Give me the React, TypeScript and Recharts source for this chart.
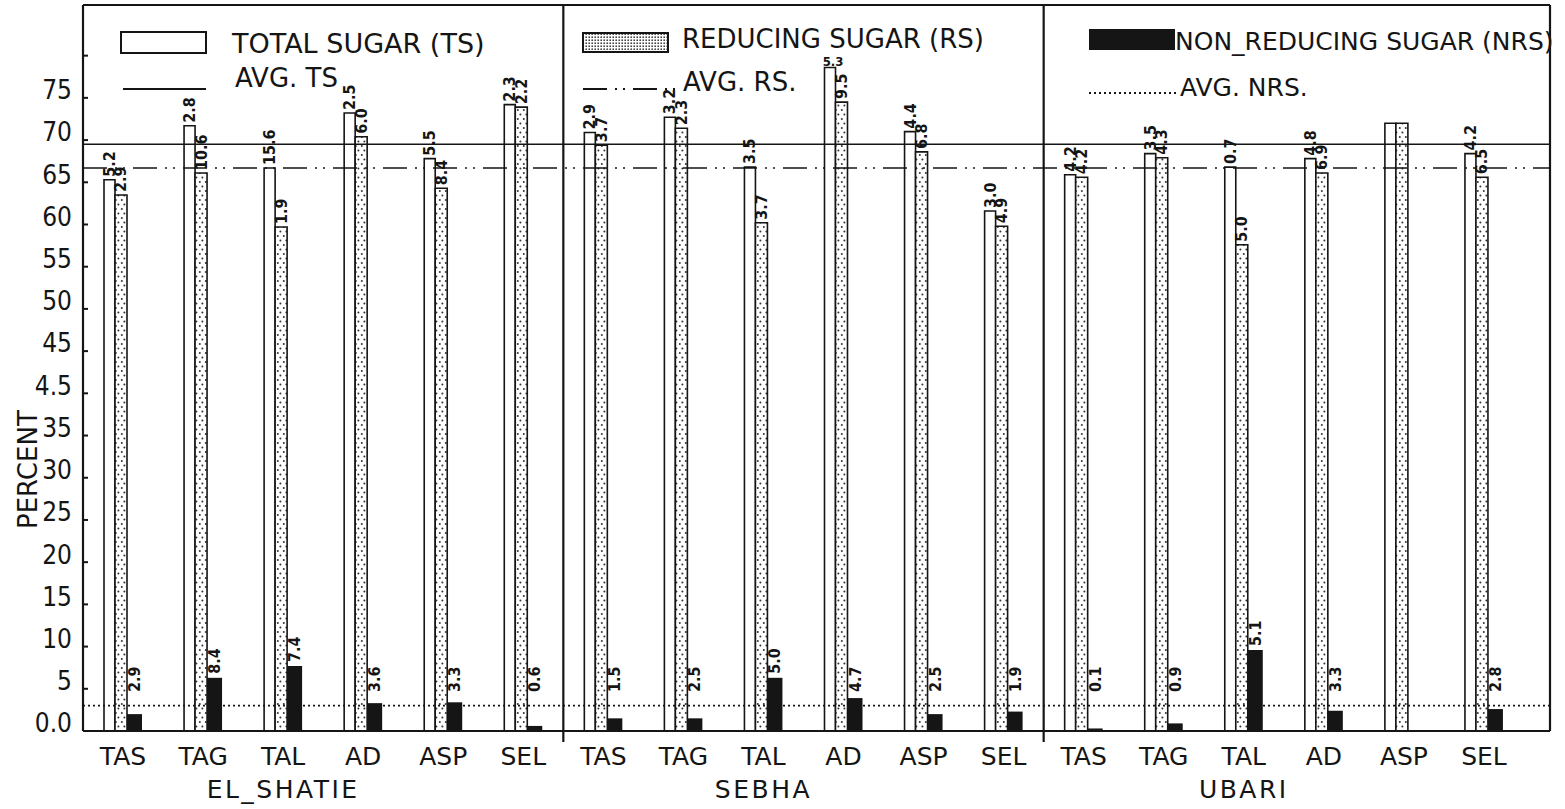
import React from "react";
import { BarChart, Bar, XAxis, YAxis, ReferenceLine, LabelList, Legend } from "recharts";

// ─── Data ────────────────────────────────────────────────────────────────────

const GROUPS = ["EL_SHATIE", "SEBHA", "UBARI"];
const VARIETIES = ["TAS", "TAG", "TAL", "AD", "ASP", "SEL"];

// percent, one entry per (group, variety), group by group
const TS = [65.3, 71.7, 66.7, 73.2, 67.8, 74.2, 70.9, 72.7, 66.8, 78.6, 71.0, 61.6, 65.9, 68.4, 66.8, 67.8, 72.0, 68.4];
const RS = [63.5, 66.1, 59.7, 70.4, 64.3, 73.9, 69.4, 71.4, 60.2, 74.5, 68.6, 59.8, 65.6, 67.9, 57.6, 66.1, 72.0, 65.6];
const NRS = [2.0, 6.3, 7.7, 3.3, 3.4, 0.6, 1.5, 1.5, 6.3, 3.9, 2.0, 2.3, 0.3, 0.9, 9.6, 2.4, 0, 2.6];

// numbers written above each bar
const TS_NOTES = ["5.2", "2.8", "15.6", "2.5", "5.5", "2.3", "2.9", "3.2", "3.5", "5.3", "4.4", "3.0", "4.2", "3.5", "0.7", "4.8", "", "4.2"];
const RS_NOTES = ["2.9", "10.6", "1.9", "6.0", "8.4", "2.2", "3.7", "2.3", "3.7", "9.5", "6.8", "4.9", "4.2", "4.3", "5.0", "6.9", "", "6.5"];
const NRS_NOTES = ["2.9", "8.4", "7.4", "3.6", "3.3", "0.6", "1.5", "2.5", "5.0", "4.7", "2.5", "1.9", "0.1", "0.9", "5.1", "3.3", "", "2.8"];

const AVG_TS = 69.5;
const AVG_RS = 66.7;
const AVG_NRS = 3.0;

const Y_TICKS = [0, 5, 10, 15, 20, 25, 30, 35, 40, 45, 50, 55, 60, 65, 70, 75, 80];
const Y_TICK_LABELS = ["0.0", "5", "10", "15", "20", "25", "30", "35", "4.5", "45", "50", "55", "60", "65", "70", "75", ""];
const Y_MAX = 86;

const rows = TS.map((ts, i) => ({
  key: `${GROUPS[Math.floor(i / VARIETIES.length)]}-${VARIETIES[i % VARIETIES.length]}`,
  variety: VARIETIES[i % VARIETIES.length],
  group: GROUPS[Math.floor(i / VARIETIES.length)],
  ts,
  rs: RS[i],
  nrs: NRS[i],
  tsNote: TS_NOTES[i],
  rsNote: RS_NOTES[i],
  nrsNote: NRS_NOTES[i],
}));

// first category of every group after the first one
const DIVIDERS = GROUPS.slice(1).map((_, g) => rows[(g + 1) * VARIETIES.length].key);

// ─── Style ───────────────────────────────────────────────────────────────────

const INK = "#151515";
const FONT = "'DejaVu Sans', sans-serif";
const NARROW = "'DejaVu Sans Condensed', 'DejaVu Sans', sans-serif";
const RIGHT_PAD = 26;

// ─── Pieces ──────────────────────────────────────────────────────────────────

function YTick(props: any) {
  const { x, y, payload, index } = props;
  const i = index ?? Y_TICKS.indexOf(payload.value);
  return (
    <g>
      <line x1={x + 11} x2={x + 16} y1={y} y2={y} stroke={INK} strokeWidth={2} />
      <text x={x} y={y - 8} dy="0.36em" textAnchor="end" fontSize={26} fontFamily={NARROW} fill={INK}>
        {Y_TICK_LABELS[i]}
      </text>
    </g>
  );
}

function XTick(props: any) {
  const { x, y, payload } = props;
  const i = props.index ?? payload.index;
  const row = rows[i];
  if (!row) return null;
  const showGroup = i % VARIETIES.length === 2;
  return (
    <g>
      <text x={x} y={y + 25} dy="0.36em" textAnchor="middle" fontSize={25} fontFamily={FONT} fill={INK}>
        {row.variety}
      </text>
      {showGroup && (
        <text x={x} y={y + 58} dy="0.36em" textAnchor="middle" fontSize={25} fontFamily={FONT} fill={INK} letterSpacing={2.5}>
          {row.group}
        </text>
      )}
    </g>
  );
}

function Note(props: any) {
  const { x, y, width, height, value, lift } = props;
  if (!value) return null;
  const cx = x + width / 2;
  const style = { fontWeight: "bold", fontFamily: NARROW, fill: INK } as any;
  // very tall bars get their note written flat, as in the original drawing
  if (y < 75) {
    return (
      <text x={cx + 3} y={y - 1} textAnchor="middle" fontSize={13} {...style}>
        {value}
      </text>
    );
  }
  const base = lift ? Math.min(y - 4, y + height - 39) : y - 3;
  return (
    <text
      x={cx}
      y={base}
      transform={`rotate(-90 ${cx} ${base})`}
      textAnchor="start"
      dominantBaseline="central"
      fontSize={16}
      {...style}
    >
      {value}
    </text>
  );
}

function LegendBlock() {
  const t = { fontSize: 26, fontFamily: FONT, fill: INK } as any;
  return (
    <svg width={1565} height={110} style={{ display: "block" }}>
      <defs>
        <pattern id="legendDots" width="3" height="3" patternUnits="userSpaceOnUse">
          <rect width="3" height="3" fill="#fff" />
          <circle cx="1.2" cy="1.2" r="0.9" fill="#444" />
        </pattern>
      </defs>
      <rect x={121} y={32} width={85} height={21} fill="#fff" stroke={INK} strokeWidth={2} />
      <text x={232} y={43} dy="0.36em" {...t} fontSize={27}>TOTAL SUGAR (TS)</text>
      <line x1={123} x2={206} y1={89} y2={89} stroke={INK} strokeWidth={2} />
      <text x={235} y={78} dy="0.36em" {...t}>AVG. TS</text>

      <rect x={583} y={33} width={85} height={19} fill="url(#legendDots)" stroke={INK} strokeWidth={2} />
      <text x={682} y={39} dy="0.36em" {...t}>REDUCING SUGAR (RS)</text>
      <line x1={583} x2={680} y1={89} y2={89} stroke={INK} strokeWidth={2} strokeDasharray="24 8 2 6 2 8" />
      <text x={683} y={82} dy="0.36em" {...t}>AVG. RS.</text>

      <rect x={1089} y={29} width={86} height={21} fill={INK} />
      <text x={1175} y={41} dy="0.36em" {...t} fontSize={25}>NON_REDUCING SUGAR (NRS)</text>
      <line x1={1089} x2={1178} y1={93} y2={93} stroke={INK} strokeWidth={2} strokeDasharray="2 3" />
      <text x={1180} y={87} dy="0.36em" {...t} fontSize={25}>AVG. NRS.</text>
    </svg>
  );
}

// ─── Chart ───────────────────────────────────────────────────────────────────

export default function App() {
  return (
    <div style={{ position: "fixed", left: 0, top: 0, width: 1565, height: 809, background: "#fff" }}>
      <BarChart
        width={1565}
        height={809}
        data={rows}
        margin={{ top: 5, right: 15, left: 8, bottom: 8 }}
        barGap={0}
      >
        <defs>
          <pattern id="rsDots" width="6" height="9" patternUnits="userSpaceOnUse">
            <rect width="6" height="9" fill="#fff" />
            <circle cx="1.8" cy="2" r="1" fill="#333" />
            <circle cx="4.4" cy="6.5" r="1" fill="#333" />
          </pattern>
        </defs>

        <XAxis
          dataKey="key"
          interval={0}
          height={70}
          tickLine={false}
          tickSize={0}
          tickMargin={0}
          tick={<XTick />}
          axisLine={{ stroke: INK, strokeWidth: 2.2 }}
          padding={{ left: 0, right: RIGHT_PAD }}
        />
        <YAxis
          domain={[0, Y_MAX]}
          ticks={Y_TICKS}
          interval={0}
          width={75}
          tickLine={false}
          tickSize={0}
          tickMargin={11}
          tick={<YTick />}
          axisLine={{ stroke: INK, strokeWidth: 2.2 }}
          allowDataOverflow
          label={{
            content: (p: any) => {
              const vb = p.viewBox || { x: 8, y: 5, height: 726 };
              const cx = vb.x + 20;
              const cy = vb.y + vb.height * 0.64;
              return (
                <text x={cx} y={cy} transform={`rotate(-90 ${cx} ${cy})`} textAnchor="middle" dominantBaseline="central" fontSize={26} fontFamily={FONT} fill={INK}>
                  PERCENT
                </text>
              );
            },
          }}
        />
        <YAxis
          yAxisId="frame"
          orientation="right"
          mirror
          domain={[0, Y_MAX]}
          ticks={Y_TICKS}
          width={1}
          tickSize={5}
          tick={() => <g />}
          tickLine={{ stroke: INK, strokeWidth: 2 }}
          axisLine={{ stroke: INK, strokeWidth: 2.2 }}
        />

        <ReferenceLine y={Y_MAX} stroke={INK} strokeWidth={2.2} />
        {DIVIDERS.map((d) => (
          <ReferenceLine
            key={d}
            segment={[{ x: d, y: -1.3 }, { x: d, y: Y_MAX }]}
            position="start"
            stroke={INK}
            strokeWidth={2.2}
            ifOverflow="visible"
          />
        ))}

        <Bar dataKey="ts" name="TOTAL SUGAR (TS)" barSize={11} fill="#fff" stroke={INK} strokeWidth={1.6} isAnimationActive={false}>
          <LabelList dataKey="tsNote" content={<Note />} />
        </Bar>
        <Bar dataKey="rs" name="REDUCING SUGAR (RS)" barSize={12} fill="url(#rsDots)" stroke={INK} strokeWidth={1.6} isAnimationActive={false}>
          <LabelList dataKey="rsNote" content={<Note />} />
        </Bar>
        <Bar dataKey="nrs" name="NON_REDUCING SUGAR (NRS)" barSize={15} fill={INK} isAnimationActive={false}>
          <LabelList dataKey="nrsNote" content={<Note lift />} />
        </Bar>

        <ReferenceLine y={AVG_TS} stroke={INK} strokeWidth={1.6} ifOverflow="visible" />
        <ReferenceLine y={AVG_RS} stroke={INK} strokeWidth={1.6} strokeDasharray="24 8 2 6 2 8" ifOverflow="visible" />
        <ReferenceLine y={AVG_NRS} stroke={INK} strokeWidth={1.6} strokeDasharray="2 3" ifOverflow="visible" />

        <Legend
          verticalAlign="middle"
          align="center"
          layout="horizontal"
          content={<LegendBlock />}
          wrapperStyle={{ left: 0, top: 0, width: 1565, height: 110 }}
        />
      </BarChart>
    </div>
  );
}
